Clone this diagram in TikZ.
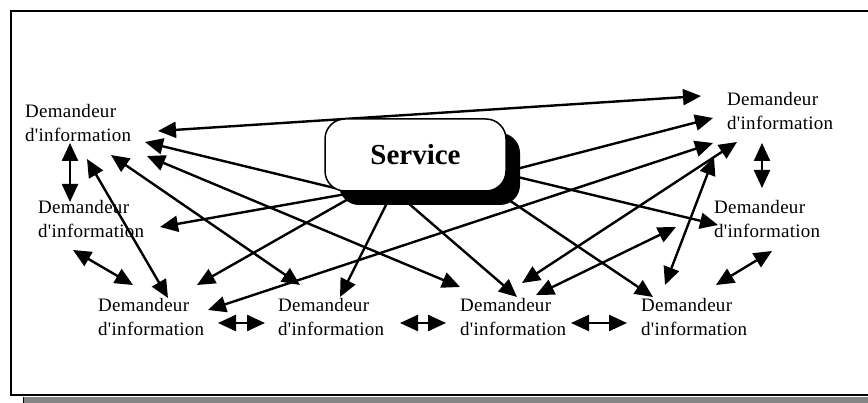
\documentclass[tikz,border=0pt]{standalone}
\usepackage{fontspec}
\setmainfont{Liberation Serif}
\newfontfamily\demfont[LetterSpace=1.5]{Liberation Serif}
\usetikzlibrary{arrows.meta,shadows}

\begin{document}
\begin{tikzpicture}[x=1pt,y=-1pt,
    dem/.style={anchor=base west, align=left, inner sep=0pt, font=\demfont\fontsize{19}{23.5}\selectfont},
    arr/.style={line width=2.4pt, -{Triangle[length=18pt,width=16pt]}},
    both/.style={line width=2.4pt, {Triangle[length=18pt,width=16pt]}-{Triangle[length=18pt,width=16pt]}}]
    \useasboundingbox (0,0) rectangle (868,403);
    % frame and its grey shadow
    \fill[black!48] (23,397.5) rectangle (890,410);
    \draw[line width=1pt] (23.5,397.5) -- (23.5,410);
    \draw[line width=2pt] (890,11) -- (11,11) -- (11,395) -- (890,395);
    % the eight clients (base is the second line)
    \node[dem] (d1) at (25,141.5) {Demandeur\\d'information};
    \node[dem] (d2) at (727,129.5) {Demandeur\\d'information};
    \node[dem] (d3) at (38,237.5) {Demandeur\\d'information};
    \node[dem] (d4) at (714,237.5) {Demandeur\\d'information};
    \node[dem] (d5) at (98,335.5) {Demandeur\\d'information};
    \node[dem] (d6) at (278,335.5) {Demandeur\\d'information};
    \node[dem] (d7) at (460,335.5) {Demandeur\\d'information};
    \node[dem] (d8) at (641,335.5) {Demandeur\\d'information};
    % ends of the links
    \coordinate (s-d1) at (380,199);  \coordinate (d1-s) at (145,142);
    \coordinate (s-d3) at (380,188);  \coordinate (d3-s) at (160,227);
    \coordinate (s-d5) at (380,181);  \coordinate (d5-s) at (197,285);
    \coordinate (s-d6) at (390,197);  \coordinate (d6-s) at (340,297);
    \coordinate (s-d7) at (400,196);  \coordinate (d7-s) at (517,297);
    \coordinate (s-d8) at (500,194);  \coordinate (d8-s) at (653,297);
    \coordinate (s-d4) at (505,174);  \coordinate (d4-s) at (718,225);
    \coordinate (s-d2) at (505,172);  \coordinate (d2-s) at (713,118);
    \coordinate (d1-d2) at (158,131); \coordinate (d2-d1) at (701,96);
    \coordinate (d1-d3) at (70,143);  \coordinate (d3-d1) at (70,202);
    \coordinate (d1-d5) at (87,159);  \coordinate (d5-d1) at (168,298);
    \coordinate (d1-d6) at (111,155); \coordinate (d6-d1) at (300,285);
    \coordinate (d1-d7) at (147,156); \coordinate (d7-d1) at (460,287);
    \coordinate (d3-d5) at (73,250);  \coordinate (d5-d3) at (133,285);
    \coordinate (d5-d6) at (218,323); \coordinate (d6-d5) at (265,323);
    \coordinate (d6-d7) at (400,323); \coordinate (d7-d6) at (446,323);
    \coordinate (d7-d8) at (571,323); \coordinate (d8-d7) at (627,323);
    \coordinate (d5-d2) at (208,310); \coordinate (d2-d5) at (713,143);
    \coordinate (d7-d2) at (522,283); \coordinate (d2-d7) at (737,142);
    \coordinate (d7-d4) at (536,295); \coordinate (d4-d7) at (676,227);
    \coordinate (d8-d2) at (665,285); \coordinate (d2-d8) at (714,157);
    \coordinate (d8-d4) at (716,285); \coordinate (d4-d8) at (772,251);
    \coordinate (d2-d4) at (762,143); \coordinate (d4-d2) at (762,188);
    \foreach \b in {d1,d2,d3,d4,d5,d6,d7,d8}
        \draw[arr] (s-\b) -- (\b-s);
    \foreach \a/\b in {d1/d2,d1/d3,d1/d5,d1/d6,d1/d7,d3/d5,d5/d6,d6/d7,d7/d8,d5/d2,d7/d2,d7/d4,d8/d2,d8/d4,d2/d4}
        \draw[both] (\a-\b) -- (\b-\a);
    % the service
    \node[draw, line width=1.5pt, fill=white, rounded corners=20pt, minimum width=181pt, minimum height=72pt,
        drop shadow={shadow xshift=14pt, shadow yshift=-14pt, fill=black, opacity=1},
        font=\bfseries\fontsize{29}{34}\selectfont] (s) at (415.5,155) {Service};
\end{tikzpicture}
\end{document}
